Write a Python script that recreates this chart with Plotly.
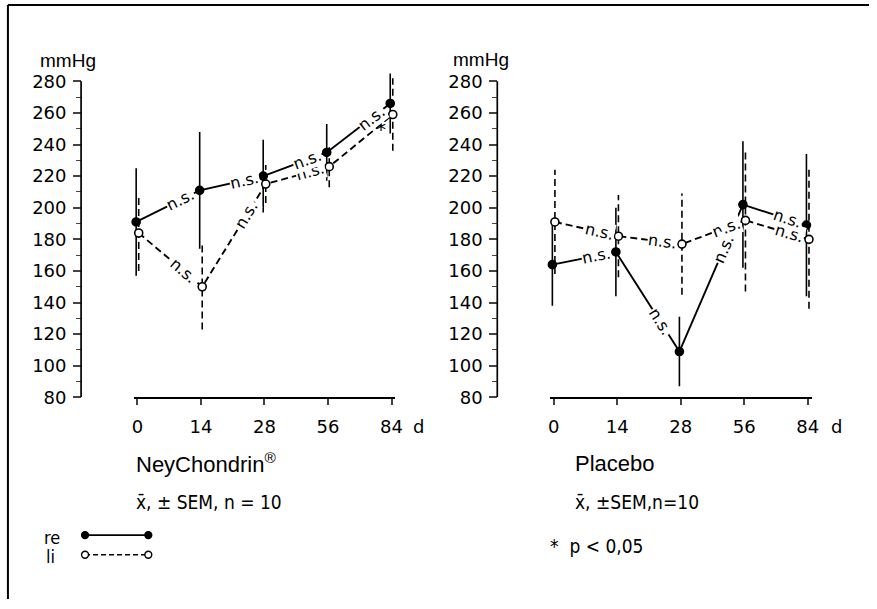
import math
import plotly.graph_objects as go

# ---------------- data ----------------
days = ["0", "14", "28", "56", "84"]
y_ticks = [80, 100, 120, 140, 160, 180, 200, 220, 240, 260, 280]
y_minor = [90, 110, 130, 150, 170, 190, 210, 230, 250, 270]

ney_re_mean = [191, 211, 220, 235, 266]
ney_re_sem = [34, 37, 23, 18, 19]
ney_li_mean = [184, 150, 215, 226, 259]
ney_li_sem = [24, 27, 12, 13, 23]

pla_re_mean = [164, 172, 109, 202, 189]
pla_re_sem = [26, 28, 22, 40, 45]
pla_li_mean = [191, 182, 177, 192, 180]
pla_li_sem = [33, 26, 32, 45, 44]

ney_re_marks = ["n.s.", "n.s.", "n.s.", "n.s."]
ney_li_marks = ["n.s.", "n.s.", "n.s.", "*"]
pla_re_marks = ["n.s.", "n.s.", "n.s.", "n.s."]
pla_li_marks = ["n.s.", "n.s.", "n.s.", "n.s."]

# ---------------- geometry ----------------
W, H = 877, 609
PX_X = 64.25          # px per category step
Y_TOP_PX, Y_BOT_PX = 66.6, 404.0
PX_Y = (Y_BOT_PX - Y_TOP_PX) / (290 - 80)
XR = [-0.06, 4.06]
OFF = 0.02
TY = 7  # text visual-centre correction


def fx(p):
    return p / W


def fy(p):
    return 1 - p / H


def xdom(cat0_px):
    return [fx(cat0_px + XR[0] * PX_X), fx(cat0_px + XR[1] * PX_X)]


MAIN = "DejaVu Sans"
SANS = "Liberation Sans"
COND = "DejaVu Sans Condensed"

fig = go.Figure()

panels = [
    dict(xa="x", ya="y", re_m=ney_re_mean, re_s=ney_re_sem, li_m=ney_li_mean,
         li_s=ney_li_sem, re_k=ney_re_marks, li_k=ney_li_marks),
    dict(xa="x2", ya="y2", re_m=pla_re_mean, re_s=pla_re_sem, li_m=pla_li_mean,
         li_s=pla_li_sem, re_k=pla_re_marks, li_k=pla_li_marks),
]

annotations = []
for p in panels:
    idx = list(range(len(days)))
    for mean, sem, dash, off in [
        (p["re_m"], p["re_s"], "solid", -OFF),
        (p["li_m"], p["li_s"], "7px,4px", OFF),
    ]:
        ex, ey = [], []
        for i in idx:
            ex += [i + off, i + off, None]
            ey += [mean[i] - sem[i], mean[i] + sem[i], None]
        fig.add_trace(go.Scatter(x=ex, y=ey, mode="lines", xaxis=p["xa"], yaxis=p["ya"],
                                 line=dict(color="black", width=1.6, dash=dash),
                                 showlegend=False, hoverinfo="skip"))
    for mean, dash, off, filled, marks in [
        (p["li_m"], "7px,4px", OFF, False, p["li_k"]),
        (p["re_m"], "solid", -OFF, True, p["re_k"]),
    ]:
        fig.add_trace(go.Scatter(
            x=[i + off for i in idx], y=mean, mode="lines", xaxis=p["xa"], yaxis=p["ya"],
            line=dict(color="black", width=1.9, dash=dash), showlegend=False))
        for i in range(len(days) - 1):
            f = 0.7 if marks[i] != "*" else 0.82
            xv = i + f + off
            yv = mean[i] + f * (mean[i + 1] - mean[i])
            ang = -math.degrees(math.atan2((mean[i + 1] - mean[i]) * PX_Y, PX_X))
            if marks[i] == "*":
                annotations.append(dict(x=xv, y=yv, xref=p["xa"], yref=p["ya"], text="*",
                                        showarrow=False, font=dict(family=MAIN, size=20, color="black"),
                                        yshift=-5))
            else:
                annotations.append(dict(x=xv, y=yv, xref=p["xa"], yref=p["ya"], text=marks[i],
                                        showarrow=False, textangle=ang, bgcolor="white", borderpad=0,
                                        font=dict(family=MAIN, size=16, color="black")))
        fig.add_trace(go.Scatter(
            x=[i + off for i in idx], y=mean, mode="markers", xaxis=p["xa"], yaxis=p["ya"],
            cliponaxis=False,
            marker=dict(symbol="circle", size=8, color="black" if filled else "white",
                        line=dict(color="black", width=1.6)),
            showlegend=False))

tickfont = dict(family=MAIN, size=18, color="black")
xcommon = dict(range=XR, tickmode="array", tickvals=list(range(len(days))), ticktext=days,
               ticks="outside", ticklen=6, tickwidth=1.6, showline=True, linewidth=1.7,
               linecolor="black", showgrid=False, zeroline=False, tickfont=tickfont,
               ticklabelstandoff=6, fixedrange=True)
ycommon = dict(range=[80, 290], domain=[fy(Y_BOT_PX), fy(Y_TOP_PX)], tickmode="array",
               tickvals=y_ticks, ticks="outside", ticklen=8, tickwidth=1.6, showline=False,
               showgrid=False, zeroline=False, tickfont=tickfont, anchor="free",
               ticklabelstandoff=3,
               minor=dict(tickmode="array", tickvals=y_minor, ticks="outside", ticklen=5,
                          tickwidth=1.3, showgrid=False), fixedrange=True)

fig.update_layout(
    width=W, height=H, margin=dict(l=0, r=0, t=0, b=0),
    paper_bgcolor="white", plot_bgcolor="white", showlegend=False,
    xaxis=dict(domain=xdom(137), anchor="y", **xcommon),
    xaxis2=dict(domain=xdom(558), anchor="y2", **xcommon),
    yaxis=dict(position=fx(80), **ycommon),
    yaxis2=dict(position=fx(501), **ycommon),
)

shapes = [
    dict(type="line", xref="paper", yref="y", x0=fx(80), x1=fx(80), y0=80, y1=280,
         line=dict(color="black", width=1.7)),
    dict(type="line", xref="paper", yref="y2", x0=fx(501), x1=fx(501), y0=80, y1=280,
         line=dict(color="black", width=1.7)),
    dict(type="line", xref="paper", yref="paper", x0=fx(6), x1=1, y0=fy(5), y1=fy(5),
         line=dict(color="black", width=2)),
    dict(type="line", xref="paper", yref="paper", x0=fx(6), x1=fx(6), y0=fy(5), y1=0,
         line=dict(color="black", width=2)),
    dict(type="line", xref="paper", yref="paper", x0=fx(84), x1=fx(148), y0=fy(544), y1=fy(544),
         line=dict(color="black", width=1.8)),
    dict(type="line", xref="paper", yref="paper", x0=fx(84), x1=fx(148), y0=fy(564), y1=fy(564),
         line=dict(color="black", width=1.5, dash="5px,3px")),
]
for cx, cy, filled in [(84, 544, True), (148, 544, True), (84, 564, False), (148, 564, False)]:
    shapes.append(dict(type="circle", xref="paper", yref="paper",
                       x0=fx(cx - 3.5), x1=fx(cx + 3.5), y0=fy(cy + 3.5), y1=fy(cy - 3.5),
                       fillcolor="black" if filled else "white", line=dict(color="black", width=1.4)))
fig.update_layout(shapes=shapes)


def txt(x, y, s, size, family=MAIN, xanchor="left", ty=TY):
    annotations.append(dict(x=fx(x), y=fy(y + ty), xref="paper", yref="paper", text=s,
                            showarrow=False, xanchor=xanchor, yanchor="middle",
                            font=dict(family=family, size=size, color="black")))


txt(36, 55, "mmHg", 19, SANS)
txt(454, 53, "mmHg", 19, SANS)
txt(414, 427, "d", 18)
txt(837, 427, "d", 18)
txt(134, 464, "NeyChondrin<sup>®</sup>", 22, SANS)
txt(578, 464, "Placebo", 22, SANS)
txt(134, 503, "x̄, ± SEM, n = 10", 19, COND)
txt(578, 503, "x̄, ±SEM,n=10", 19, COND)
txt(40, 544, "re", 18, COND, ty=2)
txt(42, 564, "li", 18, COND, ty=2)
txt(552, 548, "*  p < 0,05", 19, COND)

fig.update_layout(annotations=annotations)
fig.write_html("out.html", config={"displayModeBar": False},
               post_script="document.body.style.margin='0';document.body.style.overflow='hidden';")
